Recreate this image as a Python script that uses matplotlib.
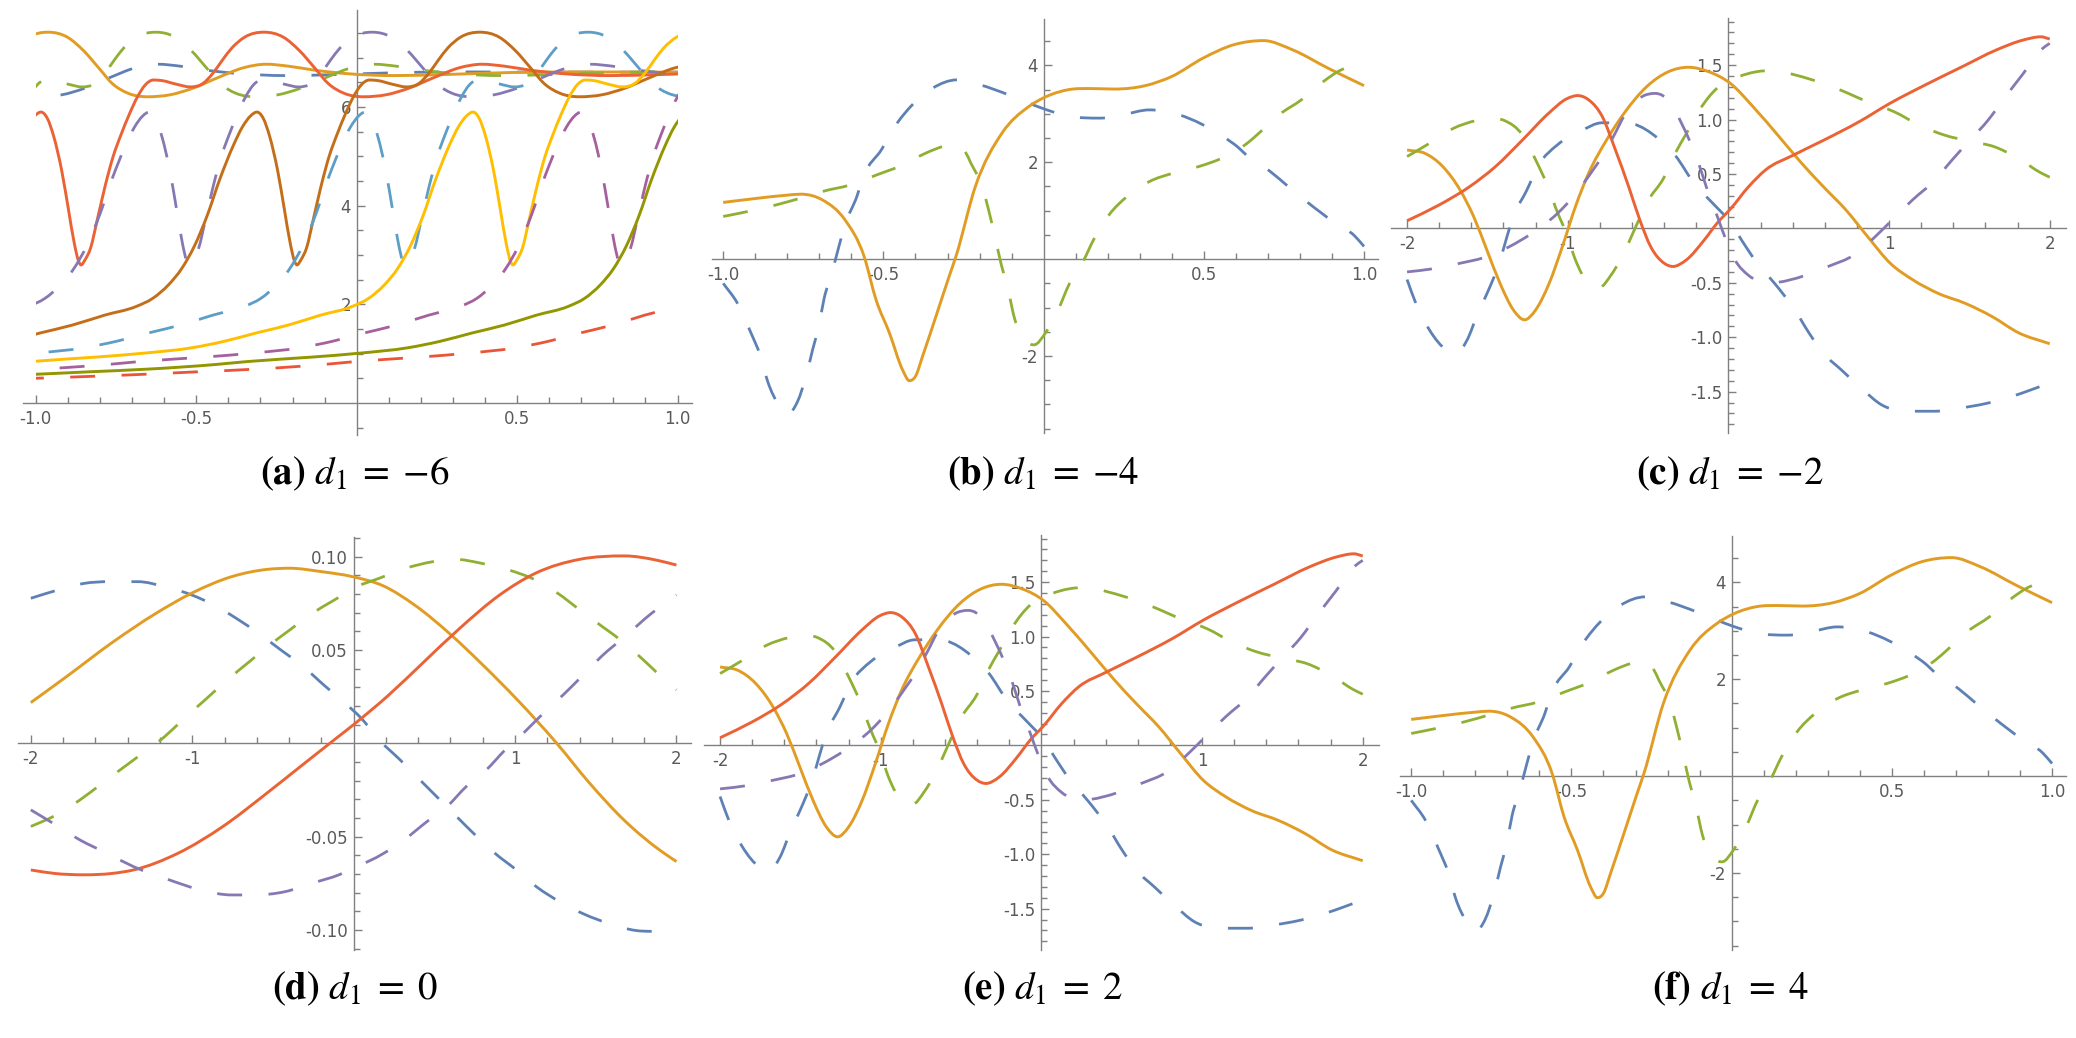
import numpy as np
import matplotlib.pyplot as plt
from matplotlib.patches import Rectangle, PathPatch
from matplotlib.path import Path

plt.rcParams['mathtext.fontset'] = 'stix'
plt.rcParams['axes.unicode_minus'] = False

# --- warna bawaan gaya Mathematica ---
BLUE, ORANGE, GREEN, RED, PURPLE = '#5E81B5', '#E19C24', '#8FB032', '#EB6235', '#8778B3'
BROWN, LIGHTBLUE, YELLOW, MAGENTA, OLIVE, RED2 = '#C56E1A', '#5D9EC7', '#FFBF00', '#A5609D', '#929600', '#E95536'
AXIS_GRAY = '#808080'
LABEL_GRAY = '#5a5a5a'
DASH = (0, (9, 9.5))

# --- panel (a): satu profil gelombang, digeser per kurva (posisi lembah) ---
A_PROFILE_S = [-2.55, -2.2, -2.0, -1.8, -1.6, -1.5, -1.3, -1.15, -1.0, -0.9, -0.8, -0.7, -0.6,
               -0.5, -0.45, -0.4, -0.36, -0.32, -0.28, -0.24, -0.2, -0.17, -0.145, -0.125,
               -0.105, -0.085, -0.06, -0.04, -0.02, -0.008, 0.0, 0.012, 0.03, 0.05, 0.075,
               0.1, 0.125, 0.15, 0.175, 0.2, 0.225, 0.25, 0.3, 0.34, 0.38, 0.41, 0.44, 0.47,
               0.51, 0.57, 0.63, 0.68, 0.73, 0.77, 0.82, 0.88, 0.95, 1.02, 1.1, 1.18, 1.25,
               1.32, 1.4, 1.5, 1.65, 1.8, 2.0, 2.5, 2.9]
A_PROFILE_Y = [0.49, 0.57, 0.63, 0.69, 0.78, 0.84, 0.93, 1.01, 1.12, 1.25, 1.42, 1.58, 1.78,
               1.96, 2.12, 2.40, 2.72, 3.18, 3.80, 4.55, 5.20, 5.60, 5.82, 5.90,
               5.77, 5.40, 4.70, 3.95, 3.20, 2.88, 2.80, 2.90, 3.15, 3.70, 4.40,
               5.00, 5.45, 5.85, 6.20, 6.45, 6.55, 6.54, 6.46, 6.41, 6.48, 6.68, 6.95, 7.20,
               7.42, 7.52, 7.42, 7.15, 6.78, 6.48, 6.28, 6.21, 6.25, 6.38, 6.60, 6.80, 6.87,
               6.83, 6.75, 6.68, 6.64, 6.66, 6.70, 6.71, 6.71]
A_TROUGHS = [-1.869, -1.532, -1.196, -0.859, -0.522, -0.186, 0.151, 0.487, 0.824, 1.16, 1.497]

# --- panel (b) dan (f) ---
B_BLUE_X = [-1.0, -0.955, -0.915, -0.884, -0.861, -0.827, -0.80, -0.768, -0.742, -0.721, -0.701,
            -0.685, -0.661, -0.639, -0.618, -0.583, -0.562, -0.506, -0.464, -0.409, -0.346,
            -0.27, -0.2, -0.109, -0.046, 0.01, 0.08, 0.177, 0.247, 0.33, 0.407, 0.498, 0.56,
            0.61, 0.637, 0.707, 0.763, 0.826, 0.902, 0.972, 1.0]
B_BLUE_Y = [-0.50, -0.92, -1.50, -2.00, -2.53, -3.01, -3.20, -2.94, -2.43, -1.87, -1.36,
            -0.81, -0.29, 0.26, 0.74, 1.29, 1.71, 2.26, 2.74, 3.19, 3.53,
            3.70, 3.60, 3.39, 3.22, 3.08, 2.95, 2.91, 2.98, 3.08, 3.01, 2.77, 2.53,
            2.29, 2.12, 1.81, 1.50, 1.16, 0.78, 0.47, 0.26]
B_ORANGE_X = [-1.0, -0.9, -0.8, -0.757, -0.69, -0.62, -0.56, -0.523, -0.481, -0.44, -0.419,
              -0.40, -0.377, -0.335, -0.294, -0.273, -0.213, -0.13, -0.046, 0.01, 0.08, 0.15,
              0.22, 0.317, 0.4, 0.498, 0.596, 0.686, 0.777, 0.888, 1.0]
B_ORANGE_Y = [1.17, 1.25, 1.32, 1.34, 1.22, 0.81, 0.05, -0.84, -1.53, -2.29, -2.51,
              -2.42, -1.99, -1.16, -0.34, 0.07, 1.5, 2.6, 3.15, 3.36, 3.5, 3.52,
              3.51, 3.58, 3.77, 4.15, 4.43, 4.51, 4.32, 3.94, 3.58]
B_GREEN_X = [-1.0, -0.925, -0.834, -0.743, -0.688, -0.604, -0.52, -0.437, -0.367, -0.31, -0.275,
             -0.245, -0.227, -0.192, -0.172, -0.155, -0.132, -0.111, -0.091, -0.059, -0.03,
             0.008, 0.045, 0.081, 0.123, 0.156, 0.205, 0.26, 0.33, 0.407, 0.484, 0.568, 0.637,
             0.672, 0.735, 0.805, 0.874, 0.93, 1.0]
B_GREEN_Y = [0.88, 0.98, 1.12, 1.29, 1.40, 1.53, 1.74, 1.95, 2.19, 2.33, 2.36,
             2.22, 1.98, 1.50, 1.02, 0.55, -0.12, -0.63, -1.22, -1.67, -1.77,
             -1.50, -1.05, -0.50, -0.05, 0.40, 0.92, 1.29, 1.60, 1.78, 1.91, 2.12, 2.40,
             2.60, 2.98, 3.29, 3.67, 3.91, 4.01]

# --- panel (c) dan (e) ---
C_BLUE_X = [-2.0, -1.945, -1.862, -1.752, -1.697, -1.628, -1.559, -1.503, -1.42, -1.379, -1.338,
            -1.255, -1.186, -1.062, -0.924, -0.786, -0.676, -0.593, -0.441, -0.331, -0.207,
            -0.097, 0.014, 0.083, 0.179, 0.29, 0.414, 0.497, 0.593, 0.703, 0.828, 0.952, 1.145,
            1.283, 1.448, 1.6, 1.752, 1.89, 2.0]
C_BLUE_Y = [-0.47, -0.69, -0.93, -1.12, -1.15, -1.03, -0.78, -0.60, -0.29, -0.08, 0.11,
            0.35, 0.57, 0.77, 0.89, 0.97, 0.97, 0.96, 0.83, 0.67, 0.40,
            0.23, 0.05, -0.11, -0.32, -0.51, -0.75, -0.95, -1.15, -1.30, -1.47, -1.62, -1.68,
            -1.68, -1.65, -1.61, -1.55, -1.48, -1.42]
C_ORANGE_X = [-2.0, -1.89, -1.779, -1.669, -1.586, -1.503, -1.42, -1.338, -1.269, -1.2, -1.117,
              -1.034, -0.952, -0.869, -0.759, -0.648, -0.51, -0.372, -0.248, -0.124, 0.014,
              0.152, 0.317, 0.455, 0.593, 0.731, 0.869, 1.007, 1.145, 1.31, 1.476, 1.641,
              1.807, 2.0]
C_ORANGE_Y = [0.72, 0.69, 0.57, 0.35, 0.11, -0.20, -0.51, -0.75, -0.84, -0.75, -0.51,
              -0.17, 0.20, 0.51, 0.81, 1.06, 1.30, 1.44, 1.48, 1.44, 1.33,
              1.12, 0.84, 0.60, 0.38, 0.17, -0.08, -0.32, -0.47, -0.60, -0.69, -0.81,
              -0.96, -1.06]
C_GREEN_X = [-2.0, -1.862, -1.71, -1.572, -1.5, -1.393, -1.283, -1.2, -1.131, -1.062, -1.007,
             -0.952, -0.869, -0.8, -0.731, -0.662, -0.566, -0.51, -0.4, -0.331, -0.262,
             -0.179, -0.069, 0.041, 0.179, 0.29, 0.414, 0.593, 0.731, 0.869, 1.034, 1.186,
             1.338, 1.503, 1.655, 1.807, 1.945, 2.0]
C_GREEN_Y = [0.66, 0.78, 0.92, 0.99, 1.01, 0.99, 0.86, 0.63, 0.41, 0.14, -0.05,
             -0.29, -0.51, -0.54, -0.43, -0.26, 0.05, 0.23, 0.47, 0.69, 0.87,
             1.09, 1.29, 1.38, 1.44, 1.45, 1.41, 1.33, 1.25, 1.16, 1.07, 0.95,
             0.86, 0.80, 0.75, 0.64, 0.51, 0.47]
C_RED_X = [-2.0, -1.807, -1.614, -1.448, -1.283, -1.117, -1.007, -0.938, -0.869, -0.786, -0.703,
           -0.62, -0.552, -0.483, -0.4, -0.345, -0.262, -0.152, -0.069, 0.014, 0.124, 0.234,
           0.4, 0.593, 0.814, 1.007, 1.228, 1.448, 1.669, 1.834, 1.945, 2.0]
C_RED_Y = [0.07, 0.21, 0.38, 0.57, 0.81, 1.06, 1.19, 1.22, 1.18, 1.03, 0.72,
           0.38, 0.08, -0.17, -0.32, -0.35, -0.29, -0.11, 0.05, 0.18, 0.38, 0.54,
           0.67, 0.81, 0.98, 1.15, 1.32, 1.48, 1.64, 1.73, 1.76, 1.74]
C_PURPLE_X = [-2.0, -1.834, -1.669, -1.503, -1.366, -1.228, -1.062, -0.966, -0.841, -0.786,
              -0.717, -0.634, -0.538, -0.455, -0.359, -0.29, -0.234, -0.179, -0.124, -0.069,
              -0.014, 0.041, 0.124, 0.262, 0.483, 0.621, 0.786, 0.897, 1.034, 1.145, 1.283,
              1.393, 1.503, 1.614, 1.724, 1.834, 1.945, 2.0]
C_PURPLE_Y = [-0.40, -0.37, -0.32, -0.26, -0.17, -0.05, 0.14, 0.29, 0.54, 0.66,
              0.84, 1.07, 1.21, 1.24, 1.15, 0.96, 0.78, 0.57, 0.32, 0.11,
              -0.11, -0.29, -0.43, -0.50, -0.43, -0.35, -0.24, -0.10, 0.10, 0.26, 0.44,
              0.63, 0.81, 0.99, 1.21, 1.42, 1.64, 1.70]

# --- panel (d) ---
D_BLUE_X = [-2.0, -1.834, -1.668, -1.516, -1.336, -1.17, -1.004, -0.866, -0.728, -0.589, -0.451,
            -0.313, -0.174, -0.064, 0.047, 0.158, 0.289, 0.392, 0.526, 0.629, 0.763, 0.876,
            1.01, 1.134, 1.278, 1.423, 1.588, 1.753, 1.85, 1.918, 2.0]
D_BLUE_Y = [0.0777, 0.0821, 0.0857, 0.0866, 0.0866, 0.0839, 0.0795, 0.0741, 0.0670, 0.0589,
            0.0500, 0.0411, 0.0304, 0.0223, 0.0134, 0.0018, -0.009, -0.018, -0.0296, -0.0385,
            -0.050, -0.059, -0.068, -0.077, -0.085, -0.0914, -0.0968, -0.1004, -0.1008,
            -0.1004, -0.0998]
D_ORANGE_X = [-2.0, -1.779, -1.502, -1.225, -1.004, -0.755, -0.534, -0.396, -0.202, -0.008,
              0.185, 0.379, 0.598, 0.794, 1.015, 1.258, 1.458, 1.679, 1.9, 2.0]
D_ORANGE_Y = [0.0218, 0.0357, 0.0536, 0.0696, 0.0804, 0.0893, 0.0932, 0.0938, 0.0920, 0.0893,
              0.0843, 0.0740, 0.0585, 0.0425, 0.0232, 0.0, -0.021, -0.0415, -0.0575, -0.0634]
D_GREEN_X = [-2.0, -1.862, -1.696, -1.557, -1.419, -1.308, -1.17, -1.06, -0.921, -0.783, -0.645,
             -0.506, -0.396, -0.257, -0.119, 0.019, 0.158, 0.324, 0.49, 0.628, 0.794, 0.96,
             1.126, 1.264, 1.402, 1.541, 1.679, 1.817, 1.928, 2.0]
D_GREEN_Y = [-0.0446, -0.0393, -0.0304, -0.0214, -0.0125, -0.0054, 0.0036, 0.0125, 0.0232,
             0.0339, 0.0438, 0.0536, 0.0607, 0.0696, 0.0768, 0.0839, 0.0884, 0.0938, 0.0973,
             0.0986, 0.0964, 0.0929, 0.0875, 0.0804, 0.0714, 0.0625, 0.0536, 0.0429, 0.0339,
             0.0286]
D_RED_X = [-2.0, -1.85, -1.668, -1.5, -1.364, -1.087, -0.81, -0.534, -0.33, -0.103, 0.0, 0.213,
           0.434, 0.656, 0.905, 1.126, 1.402, 1.679, 1.873, 2.0]
D_RED_Y = [-0.0679, -0.0698, -0.0705, -0.0698, -0.0679, -0.0589, -0.0446, -0.0265, -0.0125,
           0.003, 0.0100, 0.0255, 0.0435, 0.0615, 0.0795, 0.0911, 0.0986, 0.1004, 0.0982, 0.0955]
D_PURPLE_X = [-2.0, -1.862, -1.696, -1.53, -1.364, -1.143, -0.949, -0.755, -0.617, -0.423,
              -0.257, -0.091, 0.0, 0.186, 0.309, 0.454, 0.577, 0.70, 0.825, 0.938, 1.062,
              1.186, 1.299, 1.423, 1.536, 1.679, 1.845, 2.0]
D_PURPLE_Y = [-0.0357, -0.0429, -0.0518, -0.0589, -0.0661, -0.0732, -0.0786, -0.0813, -0.0813,
              -0.0795, -0.075, -0.0705, -0.067, -0.059, -0.052, -0.042, -0.034, -0.023, -0.014,
              -0.0036, 0.0063, 0.017, 0.026, 0.0367, 0.0466, 0.0571, 0.0696, 0.0795]

CAPTIONS = [r'$\mathbf{(a)}\ d_1\;=\;{-}6$', r'$\mathbf{(b)}\ d_1\;=\;{-}4$',
            r'$\mathbf{(c)}\ d_1\;=\;{-}2$', r'$\mathbf{(d)}\ d_1\;=\;0$',
            r'$\mathbf{(e)}\ d_1\;=\;2$', r'$\mathbf{(f)}\ d_1\;=\;4$']

W, H = 2076, 1038
fig = plt.figure(figsize=(W / 100, H / 100), dpi=100)


def ticks(lo, hi, step, skip):
    vals = np.round(np.arange(lo, hi + step / 2, step), 4)
    return [v for v in vals if all(abs(v - s) > 1e-6 for s in skip) and abs(v) > 1e-9]


def make_axes(box, xlim, ylim, xmaj, xlab, xminor, ymaj, ylab, yminor):
    left, right, top, bottom = box
    ax = fig.add_axes([left / W, 1 - bottom / H, (right - left) / W, (bottom - top) / H])
    ax.set_xlim(*xlim)
    ax.set_ylim(*ylim)
    ax.patch.set_alpha(0)
    for side in ('top', 'right'):
        ax.spines[side].set_visible(False)
    for side in ('left', 'bottom'):
        ax.spines[side].set_position(('data', 0))
        ax.spines[side].set_color(AXIS_GRAY)
        ax.spines[side].set_linewidth(1.0)
        ax.spines[side].set_zorder(1)
    ax.set_xticks(xmaj, xlab)
    ax.set_xticks(ticks(xminor[0], xminor[1], xminor[2], xmaj), minor=True)
    ax.set_yticks(ymaj, ylab)
    ax.set_yticks(ticks(yminor[0], yminor[1], yminor[2], ymaj), minor=True)
    ax.tick_params(which='both', direction='in', color=AXIS_GRAY, width=1.0,
                   labelsize=12, labelcolor=LABEL_GRAY)
    ax.tick_params(which='major', length=6)
    ax.tick_params(which='minor', length=4)
    ax.tick_params(axis='x', pad=5)
    ax.tick_params(axis='y', pad=4)
    return ax


def smooth_path(x, y):
    # garis mulus (Bezier kubik) yang melewati titik-titik yang dibaca
    x = np.asarray(x, float)
    y = np.asarray(y, float)
    h = np.diff(x)
    d = np.diff(y) / h
    m = np.empty_like(x)
    m[0], m[-1] = d[0], d[-1]
    for i in range(1, len(x) - 1):
        if d[i - 1] * d[i] <= 0:
            m[i] = 0.0
        else:
            m[i] = (h[i] * d[i - 1] + h[i - 1] * d[i]) / (h[i - 1] + h[i])
    verts = [(x[0], y[0])]
    codes = [Path.MOVETO]
    for i in range(len(x) - 1):
        verts += [(x[i] + h[i] / 3, y[i] + m[i] * h[i] / 3),
                  (x[i + 1] - h[i] / 3, y[i + 1] - m[i + 1] * h[i] / 3),
                  (x[i + 1], y[i + 1])]
        codes += [Path.CURVE4] * 3
    return Path(verts, codes)


def curve(ax, x, y, color, dashed, clip=None):
    patch = PathPatch(smooth_path(x, y), fill=False, edgecolor=color,
                      lw=2.0 if dashed else 2.1, linestyle=DASH if dashed else '-',
                      capstyle='butt', zorder=3)
    ax.add_patch(patch)
    if clip is not None:
        patch.set_clip_path(clip)
    return patch


# --- panel (a) ---
ax = make_axes((23, 692, 10, 435), (-1.04, 1.045), (-0.65, 7.97),
               [-1, -0.5, 0.5, 1], ['-1.0', '-0.5', '0.5', '1.0'], (-1, 1, 0.1),
               [2, 4, 6], ['2', '4', '6'], (-0.5, 7.5, 0.5))
a_colors = [BLUE, ORANGE, GREEN, RED, PURPLE, BROWN, LIGHTBLUE, YELLOW, MAGENTA, OLIVE, RED2]
clip = Rectangle((-1, -0.65), 2, 8.62, transform=ax.transData)
prof_s = np.array(A_PROFILE_S)
for i, (t, c) in enumerate(zip(A_TROUGHS, a_colors)):
    curve(ax, prof_s + t, A_PROFILE_Y, c, i % 2 == 0, clip=clip)

# --- panel (b) dan (f) ---
for box in [(712, 1377.5, 19.3, 433), (1400, 2065.5, 536.3, 950)]:
    ax = make_axes(box, (-1.035, 1.042), (-3.59, 4.95),
                   [-1, -0.5, 0.5, 1], ['-1.0', '-0.5', '0.5', '1.0'], (-1, 1, 0.1),
                   [-2, 2, 4], ['-2', '2', '4'], (-3.5, 4.5, 0.5))
    curve(ax, B_BLUE_X, B_BLUE_Y, BLUE, True)
    curve(ax, B_ORANGE_X, B_ORANGE_Y, ORANGE, False)
    curve(ax, B_GREEN_X, B_GREEN_Y, GREEN, True)

# --- panel (c) dan (e) ---
for box in [(1391, 2065.8, 18.3, 433), (704, 1378.8, 535.3, 950)]:
    ax = make_axes(box, (-2.10, 2.10), (-1.88, 1.93),
                   [-2, -1, 1, 2], ['-2', '-1', '1', '2'], (-2, 2, 0.2),
                   [-1.5, -1, -0.5, 0.5, 1, 1.5], ['-1.5', '-1.0', '-0.5', '0.5', '1.0', '1.5'],
                   (-1.8, 1.9, 0.1))
    curve(ax, C_BLUE_X, C_BLUE_Y, BLUE, True)
    curve(ax, C_ORANGE_X, C_ORANGE_Y, ORANGE, False)
    curve(ax, C_GREEN_X, C_GREEN_Y, GREEN, True)
    curve(ax, C_RED_X, C_RED_Y, RED, False)
    curve(ax, C_PURPLE_X, C_PURPLE_Y, PURPLE, True)

# --- panel (d) ---
ax = make_axes((17.9, 691, 536.7, 950), (-2.08, 2.09), (-0.1108, 0.1107),
               [-2, -1, 1, 2], ['-2', '-1', '1', '2'], (-2, 2, 0.2),
               [-0.1, -0.05, 0.05, 0.1], ['-0.10', '-0.05', '0.05', '0.10'], (-0.11, 0.11, 0.01))
curve(ax, D_BLUE_X, D_BLUE_Y, BLUE, True)
curve(ax, D_ORANGE_X, D_ORANGE_Y, ORANGE, False)
curve(ax, D_GREEN_X, D_GREEN_Y, GREEN, True)
curve(ax, D_RED_X, D_RED_Y, RED, False)
curve(ax, D_PURPLE_X, D_PURPLE_Y, PURPLE, True)

# --- keterangan di bawah tiap panel ---
cap_pos = [(355, 474), (1043, 474), (1730, 474), (355, 989), (1043, 989), (1730, 989)]
for (cx, cy), txt in zip(cap_pos, CAPTIONS):
    fig.text(cx / W, 1 - cy / H, txt, ha='center', va='center', fontsize=28, color='black')

fig.savefig('out.png', dpi=100)
